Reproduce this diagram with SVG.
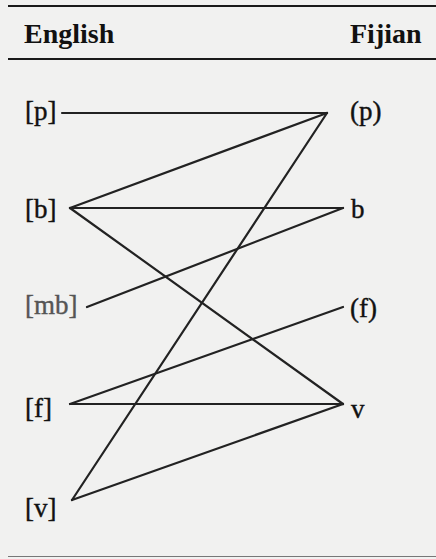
<svg xmlns="http://www.w3.org/2000/svg" width="436" height="559" viewBox="0 0 436 559">
<style>
.bg{fill:#f1f1f0}
.rule{stroke:#1a1a1a;stroke-width:2.2}
.head{font-family:"Liberation Serif",serif;font-weight:bold;font-size:28px;fill:#111}
.lbl{font-family:"Liberation Serif",serif;font-size:27px;fill:#111;stroke:#111;stroke-width:0.4}
.grey{fill:#555;stroke:#555}
.con line{stroke:#222;stroke-width:2.2;stroke-linecap:round}
</style>
<rect class="bg" x="0" y="0" width="436" height="559"/>
<line class="rule" x1="8" y1="6" x2="436" y2="6"/>
<line class="rule" x1="8" y1="59" x2="436" y2="59"/>
<line x1="8" y1="556.5" x2="436" y2="556.5" stroke="#777" stroke-width="1.2"/>
<text class="head" x="24" y="43">English</text>
<text class="head" x="350" y="43">Fijian</text>
<g class="con" id="connectors">
<line x1="62" y1="113" x2="327" y2="113"/>
<line x1="70" y1="208" x2="327" y2="113"/>
<line x1="70" y1="208" x2="343" y2="208"/>
<line x1="70" y1="208" x2="343" y2="404"/>
<line x1="87" y1="307" x2="343" y2="208"/>
<line x1="70" y1="404" x2="343" y2="307"/>
<line x1="70" y1="404" x2="343" y2="404"/>
<line x1="72" y1="500" x2="327" y2="113"/>
<line x1="72" y1="500" x2="343" y2="404"/>
</g>
<g id="en-p"><text class="lbl" x="25" y="120">[p]</text></g>
<g id="en-b"><text class="lbl" x="25" y="218">[b]</text></g>
<g id="en-mb"><text class="lbl grey" x="25" y="314">[mb]</text></g>
<g id="en-f"><text class="lbl" x="25" y="417">[f]</text></g>
<g id="en-v"><text class="lbl" x="25" y="517">[v]</text></g>
<g id="fj-p"><text class="lbl" x="350" y="120">(p)</text></g>
<g id="fj-b"><text class="lbl" x="351" y="218">b</text></g>
<g id="fj-f"><text class="lbl" x="350" y="317">(f)</text></g>
<g id="fj-v"><text class="lbl" x="351" y="418">v</text></g>
</svg>
